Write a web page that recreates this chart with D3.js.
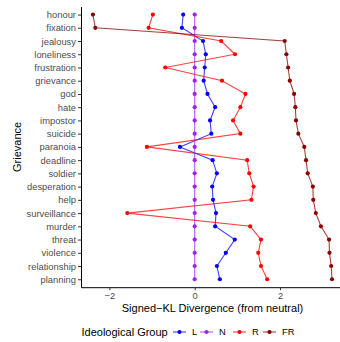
<!DOCTYPE html>
<html>
<head>
<meta charset="utf-8">
<script src="https://cdn.jsdelivr.net/npm/d3@7"></script>
<style>
  html, body { margin: 0; padding: 0; background: #fff; }
  svg { display: block; font-family: "Liberation Sans", Arial, sans-serif; }
</style>
</head>
<body>
<svg id="chart" width="340" height="342"></svg>
<script>
const categories = ["honour","fixation","jealousy","loneliness","frustration","grievance","god","hate","impostor","suicide","paranoia","deadline","soldier","desperation","help","surveillance","murder","threat","violence","relationship","planning"];

const groups = ["L","N","R","FR"];
const groupColors = ["#0000FF","#A020F0","#FF0000","#8B0000"];

const valuesL  = [-0.27,-0.30,0.195,0.26,0.235,0.21,0.30,0.48,0.36,0.39,-0.345,0.42,0.52,0.41,0.43,0.50,0.48,0.94,0.73,0.52,0.59];
const valuesN  = [0,0,0,0,0,0,0,0,0,0,0,0,0,0,0,0,0,0,0,0,0];
const valuesR  = [-0.98,-1.08,0.62,0.945,-0.69,0.64,1.19,1.07,0.90,1.07,-1.12,1.23,1.28,1.38,1.33,-1.58,1.30,1.555,1.49,1.555,1.70];
const valuesFR = [-2.385,-2.33,2.11,2.15,2.19,2.23,2.33,2.36,2.375,2.43,2.57,2.61,2.65,2.77,2.78,2.84,2.96,3.15,3.16,3.20,3.22];

const xTicks = [-2, 0, 2];
const xTitle = "Signed\u2212KL Divergence (from neutral)";
const yTitle = "Grievance";
const legendTitle = "Ideological Group";

const seriesValues = [valuesL, valuesN, valuesR, valuesFR];
const series = groups.map((g, i) => ({
  group: g, color: groupColors[i],
  points: categories.map((c, j) => ({cat: c, v: seriesValues[i][j]}))
}));

const svg = d3.select("#chart");
const panel = {left: 81, right: 344, top: 6.6, bottom: 287.2};

const allVals = seriesValues.flat();
const vmin = d3.min(allVals), vmax = d3.max(allVals);
const pad = (vmax - vmin) * 0.05;
const x = d3.scaleLinear().domain([vmin - pad, vmax + pad]).range([panel.left, panel.right]);
const y = d3.scalePoint().domain(categories).range([panel.top, panel.bottom]).padding(0.6);

// axes
const xAxis = d3.axisBottom(x).tickValues(xTicks).tickSize(3).tickSizeOuter(0).tickPadding(2)
  .tickFormat(d3.format("d"));
const gx = svg.append("g").attr("transform", `translate(0,${panel.bottom})`).call(xAxis);
gx.select(".domain").attr("stroke", "#000").attr("stroke-width", 1);
gx.selectAll(".tick line").attr("stroke", "#333").attr("stroke-width", 1);
gx.selectAll(".tick text").attr("fill", "#4d4d4d").style("font-size", "9.4px").attr("font-family", null);

const yAxis = d3.axisLeft(y).tickSize(3).tickSizeOuter(0).tickPadding(2);
const gy = svg.append("g").attr("transform", `translate(${panel.left},0)`).call(yAxis);
gy.select(".domain").attr("stroke", "#000").attr("stroke-width", 1);
gy.selectAll(".tick line").attr("stroke", "#333").attr("stroke-width", 1);
gy.selectAll(".tick text").attr("fill", "#4d4d4d").style("font-size", "9.4px").attr("font-family", null);

// titles
svg.append("text").attr("x", (panel.left + panel.right) / 2).attr("y", 312)
  .attr("text-anchor", "middle").style("font-size", "11px").attr("fill", "#000").text(xTitle);
svg.append("text").attr("transform", `translate(21,${(panel.top + panel.bottom) / 2}) rotate(-90)`)
  .attr("text-anchor", "middle").style("font-size", "11px").attr("fill", "#000").text(yTitle);

// lines and points
const line = d3.line().x(d => x(d.v)).y(d => y(d.cat));
const gData = svg.append("g");
series.forEach(s => {
  gData.append("path").datum(s.points).attr("d", line)
    .attr("fill", "none").attr("stroke", s.color).attr("stroke-width", 1.1).attr("stroke-opacity", 0.75);
});
series.forEach(s => {
  gData.selectAll(null).data(s.points).enter().append("circle")
    .attr("cx", d => x(d.v)).attr("cy", d => y(d.cat)).attr("r", 2.1).attr("fill", s.color);
});

// legend
const ly = 332;
svg.append("text").attr("x", 81.5).attr("y", ly).attr("dy", "0.35em")
  .style("font-size", "11px").attr("fill", "#000").text(legendTitle);
const keyX = [173, 200, 233, 263];
series.forEach((s, i) => {
  const g = svg.append("g").attr("transform", `translate(${keyX[i]},${ly})`);
  g.append("line").attr("x1", 0).attr("x2", 13).attr("stroke", s.color).attr("stroke-width", 1.1).attr("stroke-opacity", 0.75);
  g.append("circle").attr("cx", 6.5).attr("cy", 0).attr("r", 2.1).attr("fill", s.color);
  g.append("text").attr("x", 19).attr("dy", "0.35em").style("font-size", "9.4px").attr("fill", "#000").text(s.group);
});
</script>
</body>
</html>
